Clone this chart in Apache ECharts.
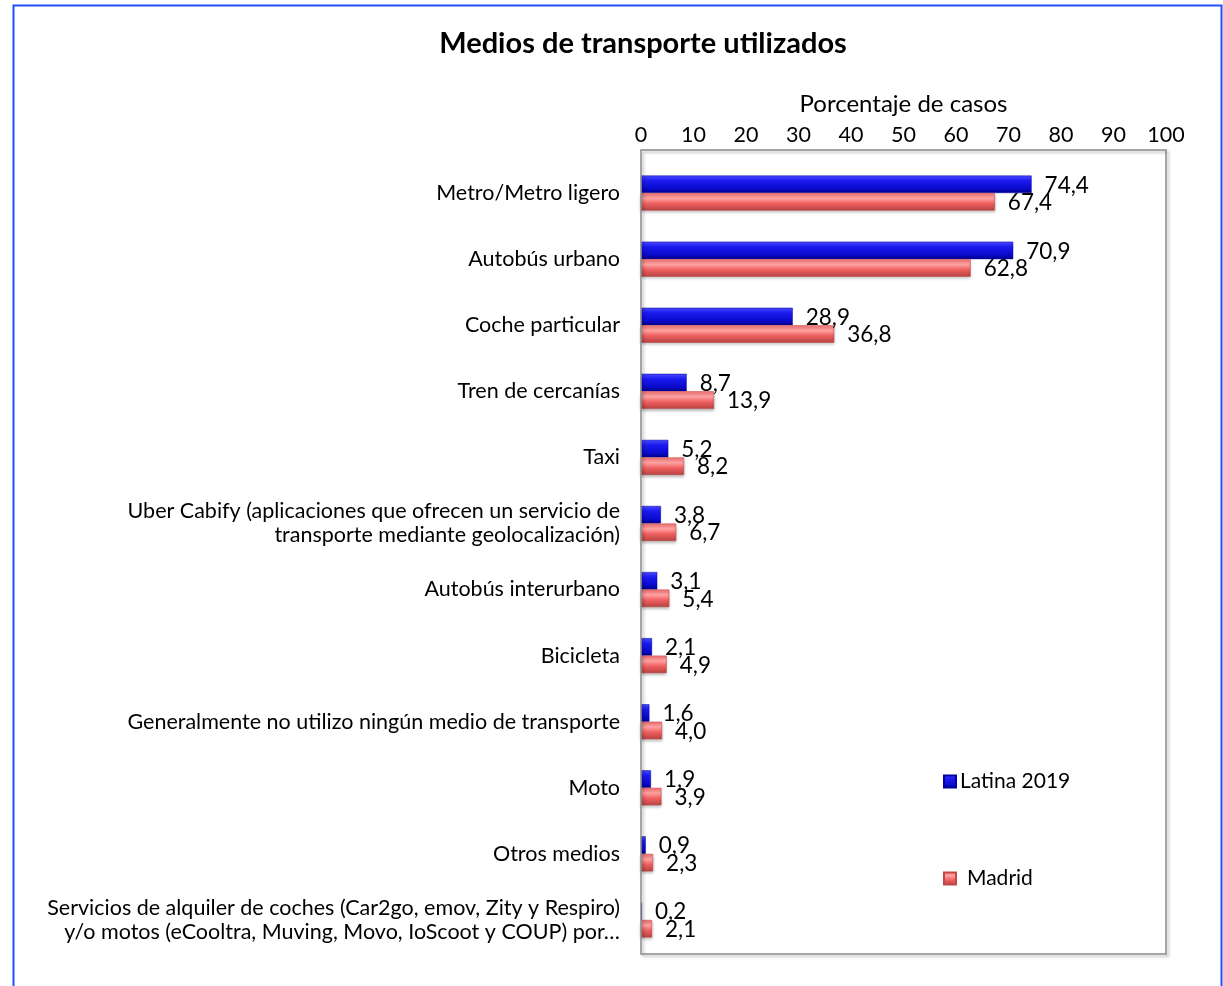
<!DOCTYPE html>
<html><head><meta charset="utf-8">
<script src="https://cdn.jsdelivr.net/npm/echarts@6/dist/echarts.min.js"></script>
<style>html,body{margin:0;padding:0;background:#fff}#c{width:1223px;height:986px}</style>
</head><body><div id="c"></div>
<script>
const categories = [
  'Metro/Metro ligero',
  'Autobús urbano',
  'Coche particular',
  'Tren de cercanías',
  'Taxi',
  'Uber Cabify (aplicaciones que ofrecen un servicio de\ntransporte mediante geolocalización)',
  'Autobús interurbano',
  'Bicicleta',
  'Generalmente no utilizo ningún medio de transporte',
  'Moto',
  'Otros medios',
  'Servicios de alquiler de coches (Car2go, emov, Zity y Respiro)\ny/o motos (eCooltra, Muving, Movo, IoScoot y COUP) por…'
];
const latina = [74.4, 70.9, 28.9, 8.7, 5.2, 3.8, 3.1, 2.1, 1.6, 1.9, 0.9, 0.2];
const madrid = [67.4, 62.8, 36.8, 13.9, 8.2, 6.7, 5.4, 4.9, 4.0, 3.9, 2.3, 2.1];
const xTicks = [0, 10, 20, 30, 40, 50, 60, 70, 80, 90, 100];

const FONT = 'Lato';
const fmt = p => p.value.toFixed(1).replace('.', ',');
const blueGrad = new echarts.graphic.LinearGradient(0, 0, 0, 1, [
  {offset: 0, color: '#4a4aff'}, {offset: 0.3, color: '#1a1aee'}, {offset: 0.75, color: '#0a0acc'}, {offset: 1, color: '#00008a'}]);
const redGrad = new echarts.graphic.LinearGradient(0, 0, 0, 1, [
  {offset: 0, color: '#f27070'}, {offset: 0.3, color: '#ffa3a3'}, {offset: 0.6, color: '#f06060'}, {offset: 1, color: '#b84242'}]);

const chart = echarts.init(document.getElementById('c'));
chart.setOption({
  animation: false,
  textStyle: {fontFamily: FONT},
  graphic: [
    {type: 'rect', shape: {x: 13.5, y: 5.5, width: 1208, height: 1000},
     style: {fill: 'none', stroke: '#1f4fff', lineWidth: 2}, z: 100},
    {type: 'rect', shape: {x: 641, y: 150, width: 525, height: 804},
     style: {fill: 'none', stroke: '#8c8c8c', lineWidth: 1.5,
       shadowColor: 'rgba(0,0,0,0.3)', shadowBlur: 3, shadowOffsetX: 2, shadowOffsetY: 2}, z: 50}
  ],
  title: {
    text: 'Medios de transporte utilizados', left: 638, top: 24, textAlign: 'center',
    textStyle: {fontFamily: FONT, fontSize: 29, fontWeight: 'bold', color: '#000'}
  },
  legend: [
    {data: [{name: 'Latina 2019', icon: 'rect'}], left: 938, top: 766, itemWidth: 12, itemHeight: 12, itemGap: 4,
     textStyle: {fontFamily: FONT, fontSize: 21, color: '#000', padding: [0, 0, 0, -1]}},
    {data: [{name: 'Madrid', icon: 'rect'}], left: 938, top: 863, itemWidth: 12, itemHeight: 12,
     textStyle: {fontFamily: FONT, fontSize: 21, color: '#000', padding: [0, 0, 0, 6]}}
  ],
  grid: {left: 641, right: 57, top: 160, bottom: 33},
  xAxis: {
    type: 'value', position: 'top', min: 0, max: 100, interval: 10,
    name: 'Porcentaje de casos', nameLocation: 'middle', nameGap: 44,
    nameTextStyle: {fontFamily: FONT, fontSize: 24, color: '#000'},
    axisLine: {show: false}, axisTick: {show: false}, splitLine: {show: false},
    axisLabel: {fontFamily: FONT, fontSize: 21.5, color: '#000', margin: 14,
      formatter: v => xTicks.includes(v) ? String(v) : ''}
  },
  yAxis: {
    type: 'category', data: categories, inverse: true,
    axisLine: {show: false}, axisTick: {show: false},
    axisLabel: {fontFamily: FONT, fontSize: 21.5, color: '#000', margin: 21, lineHeight: 24, align: 'right'}
  },
  series: [
    {name: 'Latina 2019', type: 'bar', data: latina, barWidth: 17.5, barGap: '0%',
     itemStyle: {color: blueGrad, borderColor: '#0000a0', borderWidth: 0.5},
     label: {show: true, position: 'right', distance: 13, offset: [0, 1], formatter: fmt,
       fontFamily: FONT, fontSize: 22.5, color: '#000'}},
    {name: 'Madrid', type: 'bar', data: madrid, barWidth: 17.5,
     itemStyle: {color: redGrad, borderColor: '#c04848', borderWidth: 0.5,
       shadowColor: 'rgba(0,0,0,0.3)', shadowBlur: 3, shadowOffsetY: 2},
     label: {show: true, position: 'right', distance: 13, offset: [0, 1], formatter: fmt,
       fontFamily: FONT, fontSize: 22.5, color: '#000'}}
  ]
});
</script></body></html>
